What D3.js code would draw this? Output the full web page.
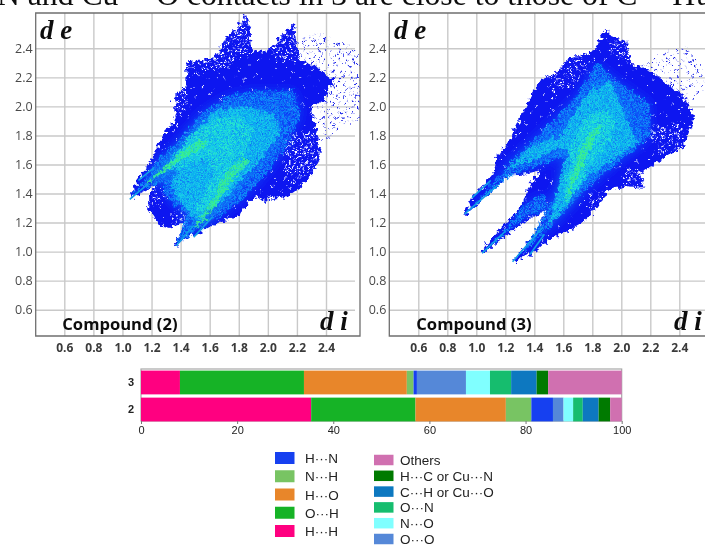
<!DOCTYPE html>
<html>
<head>
<meta charset="utf-8">
<script src="https://cdnjs.cloudflare.com/ajax/libs/d3/7.8.5/d3.min.js"></script>
<style>
html,body{margin:0;padding:0;background:#fff;overflow:hidden}
svg{display:block}
text{font-family:"Liberation Sans",sans-serif}
</style>
</head>
<body>
<div id="chart"></div>
<script>
var ticks = [0.6,0.8,1.0,1.2,1.4,1.6,1.8,2.0,2.2,2.4]

// outlines, [di, de]
var outline2 = [[1.05,1.36],[1.10,1.49],[1.19,1.61],[1.28,1.82],[1.35,1.88],[1.37,1.95],[1.35,2.07],[1.44,2.13],[1.44,2.30],[1.51,2.32],[1.63,2.33],[1.72,2.48],[1.81,2.57],[1.85,2.63],[1.88,2.55],[1.89,2.39],[1.97,2.37],[2.03,2.41],[2.11,2.50],[2.18,2.56],[2.19,2.48],[2.22,2.32],[2.36,2.26],[2.45,2.18],[2.39,2.04],[2.29,2.00],[2.34,1.82],[2.36,1.65],[2.30,1.52],[2.20,1.43],[2.13,1.37],[1.97,1.35],[1.90,1.38],[1.81,1.26],[1.67,1.20],[1.56,1.15],[1.49,1.10],[1.48,1.14],[1.37,1.04],[1.36,1.06],[1.44,1.20],[1.30,1.16],[1.24,1.20],[1.17,1.30],[1.18,1.38],[1.24,1.46],[1.12,1.40]]
var sparse2 = [[[2.20,2.46],[2.34,2.50],[2.47,2.47],[2.64,2.40],[2.65,1.93],[2.50,1.86],[2.38,1.75],[2.30,2.04],[2.40,2.18],[2.30,2.26],[2.18,2.32]]]
var speckle2 = [
  [[1.44,2.30],[1.63,2.33],[1.72,2.48],[1.85,2.62],[1.88,2.52],[1.87,2.36],[1.72,2.27],[1.54,2.22],[1.44,2.23]],
  [[2.02,2.40],[2.17,2.54],[2.19,2.44],[2.21,2.32],[2.05,2.30]],
  [[2.16,1.82],[2.33,1.82],[2.35,1.65],[2.29,1.53],[2.14,1.43],[2.10,1.60]],
  [[1.19,1.42],[1.29,1.46],[1.30,1.36],[1.24,1.30],[1.18,1.34]],
  [[1.33,1.28],[1.47,1.30],[1.46,1.20],[1.33,1.19]],
  [[1.94,1.38],[2.12,1.39],[2.12,1.36],[1.96,1.35]],
  [[1.36,2.07],[1.44,2.12],[1.46,1.98],[1.38,1.95]]
]
var mid2 = [[[1.24,1.63],[1.40,1.77],[1.53,1.95],[1.72,2.07],[1.90,2.11],[2.18,2.11],[2.23,1.95],[2.13,1.72],[1.99,1.54],[1.85,1.38],[1.67,1.24],[1.51,1.15],[1.37,1.05],[1.44,1.26],[1.30,1.38],[1.28,1.47],[1.14,1.44],[1.05,1.36]]]
var light2 = [[[1.37,1.65],[1.53,1.86],[1.65,1.98],[1.83,2.00],[2.04,1.95],[2.08,1.82],[1.97,1.65],[1.85,1.54],[1.74,1.40],[1.63,1.31],[1.51,1.22],[1.37,1.36],[1.33,1.47],[1.40,1.59]]]
var cyan2 = [[[1.46,1.81],[1.63,1.91],[1.81,1.94],[1.90,1.84],[1.85,1.68],[1.76,1.63],[1.65,1.38],[1.53,1.26],[1.51,1.31],[1.63,1.54],[1.58,1.65],[1.44,1.59],[1.26,1.53]]]
var green2 = [
  [[1.17,1.48],[1.35,1.64],[1.53,1.77],[1.59,1.75],[1.36,1.60],[1.19,1.48]],
  [[1.49,1.17],[1.60,1.33],[1.72,1.56],[1.83,1.65],[1.87,1.62],[1.76,1.49],[1.65,1.33],[1.52,1.17]]
]
var spikes2 = [[[1.05,1.36],[1.18,1.47]],[[1.11,1.49],[1.22,1.58]],[[1.37,1.04],[1.49,1.18]],[[1.49,1.10],[1.62,1.24]]]

var outline3 = [[0.92,1.26],[0.97,1.37],[1.12,1.54],[1.14,1.65],[1.23,1.77],[1.35,2.02],[1.43,2.16],[1.44,2.18],[1.53,2.22],[1.65,2.34],[1.74,2.35],[1.82,2.39],[1.84,2.45],[1.90,2.53],[1.93,2.48],[2.04,2.45],[2.06,2.30],[2.20,2.24],[2.34,2.14],[2.43,2.07],[2.50,1.93],[2.43,1.72],[2.27,1.63],[2.13,1.54],[2.16,1.44],[2.04,1.45],[1.92,1.43],[1.83,1.31],[1.74,1.20],[1.62,1.13],[1.51,1.09],[1.37,0.97],[1.36,0.99],[1.27,0.92],[1.25,0.93],[1.42,1.15],[1.49,1.29],[1.35,1.22],[1.19,1.10],[1.04,0.98],[1.03,1.00],[1.14,1.13],[1.30,1.29],[1.35,1.43],[1.44,1.56],[1.32,1.53],[1.21,1.52],[1.07,1.38],[0.92,1.25]]
var sparse3 = [[[2.08,2.26],[2.27,2.36],[2.43,2.42],[2.56,2.30],[2.59,2.09],[2.43,2.03],[2.30,2.10],[2.18,2.20]]]
var speckle3 = [
  [[1.50,2.20],[1.65,2.33],[1.74,2.34],[1.78,2.25],[1.66,2.13],[1.50,2.10]],
  [[1.92,2.46],[2.04,2.44],[2.05,2.32],[1.93,2.34]],
  [[2.02,1.58],[2.13,1.56],[2.16,1.44],[2.03,1.46]],
  [[2.20,1.88],[2.42,1.90],[2.42,1.72],[2.25,1.66],[2.20,1.75]],
  [[1.78,1.40],[1.88,1.42],[1.84,1.32],[1.77,1.30]]
]
var mid3 = [
  [[1.21,1.59],[1.48,1.86],[1.69,2.07],[1.83,2.30],[1.97,2.18],[2.20,2.02],[2.20,1.79],[1.97,1.61],[1.83,1.49],[1.71,1.38],[1.60,1.26],[1.44,1.10],[1.30,0.97],[1.42,1.17],[1.51,1.33],[1.60,1.49],[1.60,1.65],[1.49,1.61],[1.32,1.56],[1.14,1.45],[0.93,1.26]],
  [[1.04,0.99],[1.18,1.13],[1.34,1.33],[1.47,1.40],[1.49,1.30],[1.35,1.24],[1.20,1.12]]
]
var light3 = [
  [[1.53,1.72],[1.67,1.95],[1.78,2.11],[1.92,2.18],[2.01,1.98],[2.11,1.75],[1.92,1.61],[1.78,1.52],[1.69,1.43],[1.60,1.29],[1.49,1.17],[1.55,1.38],[1.60,1.59],[1.65,1.70]],
  [[1.21,1.57],[1.35,1.70],[1.53,1.80],[1.57,1.72],[1.38,1.62]]
]
var cyan3 = [[[1.65,1.72],[1.75,1.92],[1.88,1.98],[1.97,1.90],[1.90,1.74],[1.80,1.62],[1.72,1.48],[1.62,1.30],[1.60,1.50],[1.66,1.60]]]
var green3 = [[[1.70,1.68],[1.81,1.84],[1.87,1.88],[1.82,1.78],[1.74,1.60],[1.67,1.47],[1.61,1.33],[1.64,1.47],[1.68,1.58]]]
var spikes3 = [[[0.92,1.26],[1.15,1.46]],[[0.97,1.37],[1.10,1.49]],[[1.25,0.93],[1.46,1.17]],[[1.04,0.99],[1.20,1.14]],[[1.37,0.98],[1.47,1.12]]]

// contact percentages
var contacts = ["H···H","O···H","H···O","N···H","H···N","O···O","N···O","O···N","C···H or Cu···O","H···C or Cu···N","Others"]
var contactColors = ["#ff0080","#17b327","#e8862b","#78c464","#1540f0","#5488d8","#80ffff","#12bd6e","#0a78c0","#067a06","#d070b0"]
var compounds = ["3","2"]
var percent3 = [8.1,25.8,21.4,1.4,0.7,10.2,5.0,4.4,5.3,2.4,15.3]
var percent2 = [35.4,21.7,18.8,5.3,4.5,2.2,2.0,2.0,3.3,2.4,2.4]
var barTicks = [0,20,40,60,80,100]
var legendLeft = ["H···N","N···H","H···O","O···H","H···H"]
var legendRight = ["Others","H···C or Cu···N","C···H or Cu···O","O···N","N···O","O···O"]

var svg = d3.select("#chart").append("svg").attr("width",705).attr("height",545)
var defs = svg.append("defs")

var soft = defs.append("filter").attr("id","soft")
soft.append("feGaussianBlur").attr("stdDeviation",0.35)

var fade = defs.append("filter").attr("id","fade").attr("x","-20%").attr("y","-20%").attr("width","140%").attr("height","140%")
fade.append("feGaussianBlur").attr("stdDeviation",6)

var rough = defs.append("filter").attr("id","rough").attr("x","-5%").attr("y","-5%").attr("width","110%").attr("height","110%")
rough.append("feTurbulence").attr("type","fractalNoise").attr("baseFrequency",0.22).attr("numOctaves",3).attr("seed",4).attr("result","n")
rough.append("feDisplacementMap").attr("in","SourceGraphic").attr("in2","n").attr("scale",9).attr("xChannelSelector","R").attr("yChannelSelector","G")

// dot tiles for the thin parts of the clouds, no background so the layers beat against each other
var tileDots = [[2,3],[9,1],[15,4],[21,2],[5,9],[12,8],[19,10],[1,14],[8,15],[16,13],[23,16],[4,20],[11,21],[18,19],[22,23]]
function makeTile(id,dot,r,step){
    var p = defs.append("pattern").attr("id",id).attr("patternUnits","userSpaceOnUse").attr("width",step).attr("height",step)
    p.selectAll("circle").data(tileDots).enter().append("circle")
    .attr("cx",function(d){return d[0]*step/24})
    .attr("cy",function(d){return d[1]*step/24})
    .attr("r",r).attr("fill",dot)
}
makeTile("tileSparse","#1a22e8",0.85,21)
makeTile("tileHoles","#ffffff",0.95,17)
makeTile("tileEdge","#ffffff",0.7,37)
makeTile("tileBlue","#0a70f8",0.95,10)
makeTile("tileMid","#0a90f8",1,11)
makeTile("tileMid2","#0aa8f2",0.95,12)
makeTile("tileLight","#14cce8",1,10)
makeTile("tileLight2","#10b0f0",1,9)
makeTile("tileCyan","#26e8cc",0.95,11)
makeTile("tileGreen","#38f08a",1,8)

var root = svg.append("g").attr("filter","url(#soft)")
var line = d3.line()

var headline = root.append("text").attr("x",-3).attr("y",5)
.style("font-family","'Liberation Serif',serif").style("font-size","31.7px").attr("fill","#111")
headline.append("tspan").text("N and Cu")
headline.append("tspan").text("···").style("letter-spacing","2px")
headline.append("tspan").text("O contacts in 3 are close to those of C")
headline.append("tspan").text("···").style("letter-spacing","1px")
headline.append("tspan").text("H a").style("word-spacing","-6px")

var panels = [
  {name:"Compound (2)",left:35.7,right:360,x0:64.3,x1:326,gridEnd:355,
   outline:outline2,sparse:sparse2,speckle:speckle2,mid:mid2,light:light2,cyan:cyan2,green:green2,spikes:spikes2,
   deX:40,diX:320},
  {name:"Compound (3)",left:389.3,right:712,x0:418.3,x1:679.3,gridEnd:705,
   outline:outline3,sparse:sparse3,speckle:speckle3,mid:mid3,light:light3,cyan:cyan3,green:green3,spikes:spikes3,
   deX:394,diX:674}
]
var top_ = 13, bottom = 336

panels.forEach(function(p){
    var xScale = d3.scaleLinear().domain([0.6,2.4]).range([p.x0,p.x1])
    var yScale = d3.scaleLinear().domain([0.6,2.4]).range([309.7,48.3])
    var g = root.append("g")
    line.x(function(d){return xScale(d[0])}).y(function(d){return yScale(d[1])})

    var xAxis = g.append("g").attr("transform","translate(0,"+bottom+")")
    .call(d3.axisBottom(xScale).tickValues(ticks).tickFormat(d3.format(".1f")).tickSize(-(bottom-top_)).tickPadding(7))
    xAxis.select(".domain").remove()
    xAxis.selectAll("line").attr("stroke","#c9c9c9").attr("stroke-width",1.4)
    xAxis.selectAll("text").style("font-family","'Open Sans',sans-serif").style("font-size","12px").style("font-weight","bold").attr("fill","#3a3a3a")

    var yAxis = g.append("g").attr("transform","translate("+p.left+",0)")
    .call(d3.axisLeft(yScale).tickValues(ticks).tickFormat(d3.format(".1f")).tickSize(-(p.gridEnd-p.left)).tickPadding(3))
    yAxis.select(".domain").remove()
    yAxis.selectAll("line").attr("stroke","#c9c9c9").attr("stroke-width",1.4)
    yAxis.selectAll("text").style("font-family","'Open Sans',sans-serif").style("font-size","12.5px").attr("fill","#4a4a4a")

    g.append("path").attr("d","M"+p.left+" "+top_+"H"+p.right+"V"+bottom+"H"+p.left+"Z")
    .attr("fill","none").attr("stroke","#6f6f6f").attr("stroke-width",1.3)

    var clipId = "clip"+p.x0
    defs.append("clipPath").attr("id",clipId).append("rect")
    .attr("x",p.left).attr("y",top_).attr("width",p.right-p.left).attr("height",bottom-top_)
    var outlineClip = "outlineClip"+p.x0
    defs.append("clipPath").attr("id",outlineClip).append("path").attr("d",line(p.outline)+"Z")

    var cloudClip = g.append("g").attr("clip-path","url(#"+clipId+")")
    var base = cloudClip.append("g").attr("filter","url(#rough)")
    var glow = cloudClip.append("g").attr("clip-path","url(#"+outlineClip+")").append("g").attr("filter","url(#fade)")
    var dots = cloudClip.append("g").attr("filter","url(#rough)")

    function layer(target,regions,fill,opacity){
        target.selectAll(null).data(regions).enter().append("path")
        .attr("d",function(d){return line(d)+"Z"}).attr("fill",fill).attr("fill-opacity",opacity||1)
    }
    layer(base,p.sparse,"url(#tileSparse)")
    layer(base,[p.outline],"#0a14f0")
    layer(base,[p.outline],"url(#tileEdge)")
    layer(base,p.speckle,"url(#tileHoles)")

    layer(glow,p.mid,"#0a50f8",0.7)
    layer(glow,p.light,"#0a84f2",0.6)
    layer(glow,p.cyan,"#14a8e8",0.55)
    layer(glow,p.green,"#1cd0c0",0.7)

    layer(dots,p.mid,"url(#tileBlue)")
    layer(dots,p.mid,"url(#tileMid)")
    layer(dots,p.light,"url(#tileLight2)")
    layer(dots,p.light,"url(#tileMid2)")
    layer(dots,p.light,"url(#tileLight)")
    layer(dots,p.cyan,"url(#tileLight)")
    layer(dots,p.cyan,"url(#tileCyan)")
    layer(dots,p.green,"url(#tileCyan)")
    layer(dots,p.green,"url(#tileGreen)")

    cloudClip.selectAll(null).data(p.spikes).enter().append("path")
    .attr("d",function(d){return line(d)}).attr("stroke","#12a0e8").attr("stroke-width",1.6).attr("fill","none")

    function cambria(str,x,y){
        g.append("text").text(str).attr("x",x).attr("y",y).attr("xml:space","preserve")
        .style("font-family","'Liberation Serif',serif").style("font-style","italic").style("font-weight","bold")
        .style("font-size","27px").attr("fill","#111")
    }
    cambria("d e",p.deX,39)
    cambria("d i",p.diX,330)
    g.append("text").text(p.name).attr("x",p.x0-2).attr("y",330)
    .style("font-family","'Open Sans',sans-serif").style("font-weight","bold").style("font-size","16.6px").attr("fill","#111")
})

// stacked bars
var barX = d3.scaleLinear().domain([0,100]).range([141,621.7])
var barY = d3.scaleBand().domain(compounds).range([369.5,422.5]).paddingInner(0.12).paddingOuter(0.04)
var barG = root.append("g")

barG.append("rect").attr("x",barX(0)).attr("y",369).attr("width",barX(100)-barX(0)).attr("height",52)
.attr("fill","#fff").attr("stroke","#a8a8a8").attr("stroke-width",1.2)

var rows = [{key:"3",values:percent3},{key:"2",values:percent2}]
rows.forEach(function(r){
    var start = 0
    r.values.forEach(function(v,i){
        barG.append("rect").attr("x",barX(start)).attr("y",barY(r.key))
        .attr("width",barX(start+v)-barX(start)).attr("height",barY.bandwidth())
        .attr("fill",contactColors[i])
        start+=v
    })
})

var bx = barG.append("g").attr("transform","translate(0,421)")
.call(d3.axisBottom(barX).tickValues(barTicks).tickSize(3).tickPadding(2))
bx.select(".domain").remove()
bx.selectAll("line").attr("stroke","#777")
bx.selectAll("text").style("font-size","11px").attr("fill","#222")

var by = barG.append("g").attr("transform","translate(134,0)")
.call(d3.axisLeft(barY).tickSize(0).tickPadding(0))
by.select(".domain").remove()
by.selectAll("text").style("font-size","11px").style("font-weight","bold").attr("fill","#222")

// legend
function colorOf(name){return contactColors[contacts.indexOf(name)]}
var legY1 = d3.scalePoint().domain(legendLeft).range([458,531])
var legY2 = d3.scalePoint().domain(legendRight).range([460,539])

function legend(names,yScale,sx,tx,h){
    var lg = root.append("g")
    lg.selectAll("rect").data(names).enter().append("rect")
    .attr("x",sx).attr("y",function(d){return yScale(d)-h/2}).attr("width",19.5).attr("height",h)
    .attr("fill",colorOf)
    lg.selectAll("text").data(names).enter().append("text").text(function(d){return d})
    .attr("x",tx).attr("y",function(d){return yScale(d)+5}).style("font-size","13.5px").attr("fill","#222")
}
legend(legendLeft,legY1,275,305,12)
legend(legendRight,legY2,374,400,10.5)
</script>
</body>
</html>
